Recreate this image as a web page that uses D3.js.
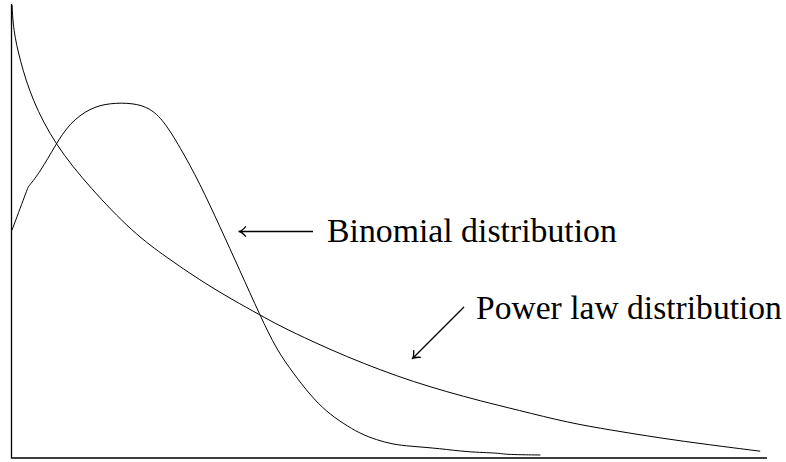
<!DOCTYPE html>
<html>
<head>
<meta charset="utf-8">
<script src="https://cdn.jsdelivr.net/npm/d3@7"></script>
<style>
  html, body { margin: 0; padding: 0; background: #fff; }
  svg { display: block; }
  .lbl { font-family: "Liberation Serif", serif; fill: #000; }
</style>
</head>
<body>
<div id="chart"></div>
<script>
// curves, x and y in 0..100 units
const powerX = [0.07, 0.24, 1.1, 2.7, 5.8, 10.4, 16.1, 20.6, 24.9, 29.3, 32.9, 35.5, 39.9, 44.4, 48.8, 53.2, 57.6, 62.0, 66.9, 73.9, 79.2, 85.8, 92.4, 99.1];
const powerY = [99.8, 94.3, 87.7, 78.9, 68.9, 59.5, 49.6, 44.1, 39.2, 34.8, 31.5, 29.1, 25.6, 22.3, 19.4, 16.8, 14.6, 12.6, 10.6, 7.7, 6.2, 4.4, 2.9, 1.5];

const binomX = [0.07, 2.2, 2.2, 3.8, 5.8, 7.7, 10.4, 13.0, 16.1, 18.3, 20.1, 22.3, 24.9, 27.6, 30.2, 32.9, 35.1, 37.3, 39.5, 41.7, 43.9, 46.1, 48.3, 50.5, 52.7, 56.7, 60.3, 64.7, 65.1, 70.0];
const binomY = [50.2, 59.7, 59.7, 63.0, 68.9, 73.8, 77.1, 78.2, 78.2, 77.1, 74.4, 68.5, 60.6, 50.9, 41.4, 31.4, 23.8, 18.7, 13.9, 10.2, 7.6, 5.4, 4.0, 3.0, 2.6, 2.1, 1.3, 1.1, 0.77, 0.66];

const labels = ["Binomial distribution", "Power law distribution"];

const svgWidth = 786, svgHeight = 462;

const svg = d3.select("#chart").append("svg")
    .attr("width", svgWidth)
    .attr("height", svgHeight);

const xscale = d3.scaleLinear().domain([0, 100]).range([11.5, 767]);
const yscale = d3.scaleLinear().domain([0, 100]).range([458, 4]);

const line = d3.line()
    .x(d => xscale(d[0]))
    .y(d => yscale(d[1]))
    .curve(d3.curveBasis);

// axes, plain L shape
svg.append("path")
    .attr("d", "M" + xscale(0) + "," + yscale(100) + "V" + yscale(0) + "H" + xscale(100))
    .attr("fill", "none")
    .attr("stroke", "#000")
    .attr("stroke-width", 1.3);

svg.append("path")
    .datum(d3.zip(powerX, powerY))
    .attr("d", line)
    .attr("fill", "none")
    .attr("stroke", "#000")
    .attr("stroke-width", 1);

svg.append("path")
    .datum(d3.zip(binomX, binomY))
    .attr("d", line)
    .attr("fill", "none")
    .attr("stroke", "#000")
    .attr("stroke-width", 1);

// labels
svg.append("text").attr("class", "lbl")
    .attr("x", 327).attr("y", 242)
    .style("font-size", "30px")
    .text(labels[0]);

svg.append("text").attr("class", "lbl")
    .attr("x", 476).attr("y", 319)
    .style("font-size", "30px")
    .text(labels[1]);

// arrows
function arrow(x1, y1, x2, y2){
    const a = Math.atan2(y2 - y1, x2 - x1);
    const h = 9, s = 0.6;
    svg.append("path")
        .attr("d", "M" + x1 + "," + y1 + "L" + x2 + "," + y2 +
            "M" + (x2 - h*Math.cos(a - s)) + "," + (y2 - h*Math.sin(a - s)) +
            "Q" + (x2 - 3*Math.cos(a)) + "," + (y2 - 3*Math.sin(a)) + " " + x2 + "," + y2 +
            "Q" + (x2 - 3*Math.cos(a)) + "," + (y2 - 3*Math.sin(a)) + " " +
            (x2 - h*Math.cos(a + s)) + "," + (y2 - h*Math.sin(a + s)))
        .attr("fill", "none")
        .attr("stroke", "#000")
        .attr("stroke-width", 1.3);
}

arrow(313, 231.5, 238.5, 231.5);
arrow(464, 307, 412, 359);

// fit label widths to the picture
const wanted = [290, 306];
svg.selectAll(".lbl").each(function(d, i){
    const w = this.getComputedTextLength();
    d3.select(this).style("font-size", (30 * wanted[i] / w) + "px");
});
</script>
</body>
</html>
